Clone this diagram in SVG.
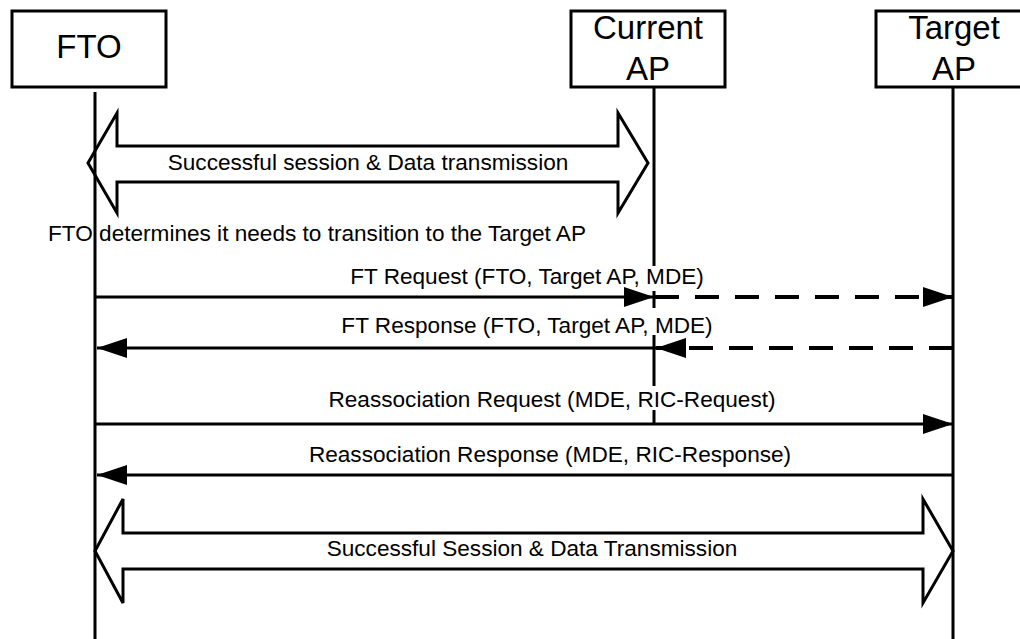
<svg xmlns="http://www.w3.org/2000/svg" width="1020" height="639" viewBox="0 0 1020 639">
  <style>
    .box { fill: #fff; stroke: #000; stroke-width: 3; }
    .life { stroke: #000; stroke-width: 3; fill: none; }
    .big { font-family: "Liberation Sans", Arial, sans-serif; font-size: 33px; fill: #000; text-anchor: middle; }
    .lbl { font-family: "Liberation Sans", Arial, sans-serif; font-size: 22.6px; fill: #000; text-anchor: middle; }
    .msg { stroke: #000; stroke-width: 3; fill: none; }
    .dash { stroke: #000; stroke-width: 4; fill: none; stroke-dasharray: 24 16; }
    .blk { fill: #fff; stroke: #000; stroke-width: 3; stroke-linejoin: miter; }
    .bg { fill: #fff; }
  </style>
  <defs>
    <marker id="ah" markerUnits="userSpaceOnUse" markerWidth="30" markerHeight="20" refX="30" refY="10" orient="auto">
      <path d="M0,0 L30,10 L0,20 z" fill="#000"/>
    </marker>
  </defs>
  <rect width="1020" height="639" fill="#fff"/>

  <g id="block-arrows">
    <polygon class="blk" points="88,163 117,113 117,146 618,146 618,113 648,163 618,213 618,182 117,182 117,213"/>
    <polygon class="blk" points="95,551 123,499 123,533 923,533 923,499 953,551 923,603 923,569 123,569 123,603"/>
  </g>

  <g id="lifelines">
    <line class="life" x1="95" y1="92" x2="95" y2="639"/>
    <line class="life" x1="654" y1="87" x2="654" y2="424"/>
    <line class="life" x1="953" y1="87" x2="953" y2="639"/>
  </g>

  <g id="node-fto">
    <rect class="box" x="12" y="11" width="154" height="76"/>
    <text class="big" x="89" y="58">FTO</text>
  </g>
  <g id="node-current-ap">
    <rect class="box" x="571" y="11" width="154" height="76"/>
    <text class="big" x="648" y="39">Current</text>
    <text class="big" x="648" y="80">AP</text>
  </g>
  <g id="node-target-ap">
    <rect class="box" x="876" y="11" width="156" height="76"/>
    <text class="big" x="954" y="39">Target</text>
    <text class="big" x="954" y="80">AP</text>
  </g>

  <g id="connectors">
    <line class="msg" x1="95" y1="297" x2="654" y2="297" marker-end="url(#ah)"/>
    <line class="dash" x1="655" y1="297" x2="953" y2="297" marker-end="url(#ah)"/>
    <line class="dash" x1="953" y1="348" x2="656" y2="348" marker-end="url(#ah)"/>
    <line class="msg" x1="656" y1="348" x2="97" y2="348" marker-end="url(#ah)"/>
    <line class="msg" x1="95" y1="424" x2="953" y2="424" marker-end="url(#ah)"/>
    <line class="msg" x1="953" y1="475" x2="97" y2="475" marker-end="url(#ah)"/>
  </g>

  <g id="labels">
    <text class="lbl" x="368" y="170">Successful session &amp; Data transmission</text>
    <text class="lbl" x="317" y="241">FTO determines it needs to transition to the Target AP</text>
    <rect class="bg" x="640" y="266" width="28" height="25"/>
    <text class="lbl" x="527" y="284">FT Request (FTO, Target AP, MDE)</text>
    <rect class="bg" x="640" y="308" width="28" height="27"/>
    <text class="lbl" x="527" y="333">FT Response (FTO, Target AP, MDE)</text>
    <rect class="bg" x="640" y="386" width="28" height="24"/>
    <text class="lbl" x="552" y="407">Reassociation Request (MDE, RIC-Request)</text>
    <text class="lbl" x="550" y="462">Reassociation Response (MDE, RIC-Response)</text>
    <text class="lbl" x="532" y="556">Successful Session &amp; Data Transmission</text>
  </g>
</svg>
